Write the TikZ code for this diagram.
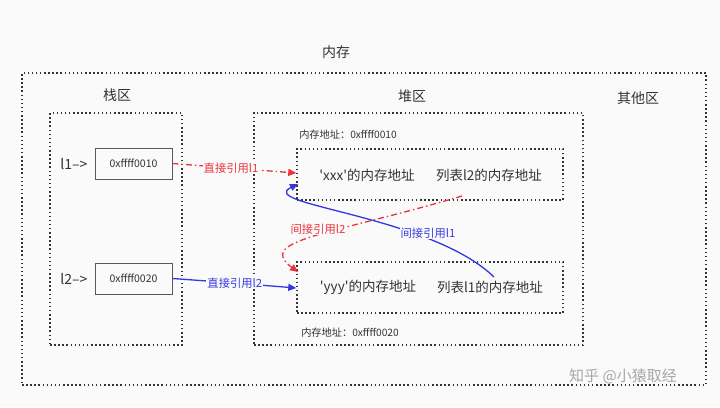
\documentclass[tikz,border=0pt]{standalone}
\usepackage{fontspec}
\setmainfont{Noto Sans CJK SC}[Ligatures=TeXOff]
\usetikzlibrary{arrows.meta}
\definecolor{bg}{HTML}{FAFAFA}
\definecolor{dotc}{HTML}{333333}
\definecolor{myred}{HTML}{E8353B}
\definecolor{myblue}{HTML}{3636E0}
\definecolor{txt}{HTML}{333333}
\tikzset{
  region/.style={draw=dotc, line width=1.5pt, dash pattern=on 1.5pt off 2.6pt, rectangle},
  membox/.style={draw=black!65, line width=0.7pt, rectangle, minimum width=77pt, minimum height=31pt, font=\fontsize{10.5}{12}\selectfont, text=txt},
  title/.style={font=\fontsize{14}{16}\selectfont, text=txt},
  small/.style={font=\fontsize{10.2}{12}\selectfont, text=txt},
  cell/.style={font=\fontsize{13.5}{15}\selectfont, text=txt},
  redarr/.style={draw=myred, line width=1.3pt, dash pattern=on 6pt off 3pt on 1.5pt off 3pt, -{Triangle[length=8pt,width=7pt]}},
  bluearr/.style={draw=myblue, line width=1.3pt, -{Triangle[length=8pt,width=7pt]}},
  redlab/.style={font=\fontsize{11.3}{13}\selectfont, text=myred, fill=bg, inner sep=1pt},
  bluelab/.style={font=\fontsize{11.3}{13}\selectfont, text=myblue, fill=bg, inner sep=1pt},
}
\begin{document}
\begin{tikzpicture}[x=1pt,y=-1pt]
\fill[bg] (0,0) rectangle (720,407);
\useasboundingbox (0,0) rectangle (720,407);

% regions
\node[region, minimum width=684pt, minimum height=312pt] (mem) at (364,229) {};
\node[region, minimum width=132pt, minimum height=232pt] (stack) at (116,229) {};
\node[region, minimum width=329pt, minimum height=232pt] (heap) at (418.5,229) {};
\node[region, minimum width=266pt, minimum height=51pt] (obj1) at (430,174.5) {};
\node[region, minimum width=266pt, minimum height=51pt] (obj2) at (430,287.5) {};

% titles
\node[title] (tmem) at (336,52) {内存};
\node[title] (tstack) at (117,95) {栈区};
\node[title] (theap) at (412,96) {堆区};
\node[title] (tother) at (638,98) {其他区};

% stack entries
\node[membox] (b1) at (133.5,163.5) {0xffff0010};
\node[membox] (b2) at (133.5,278.5) {0xffff0020};
\node[title] (n1) at (74,164) {l1–>};
\node[title] (n2) at (74,279) {l2–>};

% heap contents
\node[small] (addr1) at (348,135) {内存地址：0xffff0010};
\node[small] (addr2) at (350,333) {内存地址：0xffff0020};
\node[cell] (xxx) at (367,175) {'xxx'的内存地址};
\node[cell] (l2a) at (489,175) {列表l2的内存地址};
\node[cell] (yyy) at (368,287) {'yyy'的内存地址};
\node[cell] (l1a) at (490,287) {列表l1的内存地址};

% connectors
\draw[redarr] (b1.east) .. controls (230,168) .. ([yshift=1.5pt]obj1.west)
  node[redlab, pos=0.5] {直接引用l1};
\draw[bluearr] (b2.east) .. controls (235,283) .. ([yshift=-0.5pt]obj2.west)
  node[bluelab, pos=0.5] {直接引用l2};

\coordinate (s2) at (462,196);
\coordinate (e2) at (298,272);
\draw[redarr] (s2) .. controls (330,235) and (255,240) .. (e2);
\node[redlab] (lab2) at (318,229) {间接引用l2};

\coordinate (s1) at (494,277);
\coordinate (e1) at (298,184);
\draw[bluearr] (s1) .. controls (430,215) and (255,205) .. (e1);
\node[bluelab] (lab1) at (428,233) {间接引用l1};

% watermark
\node[font=\fontsize{15}{17}\selectfont, text=black!35] (wm) at (623,376) {知乎 @小猿取经};
\end{tikzpicture}
\end{document}
